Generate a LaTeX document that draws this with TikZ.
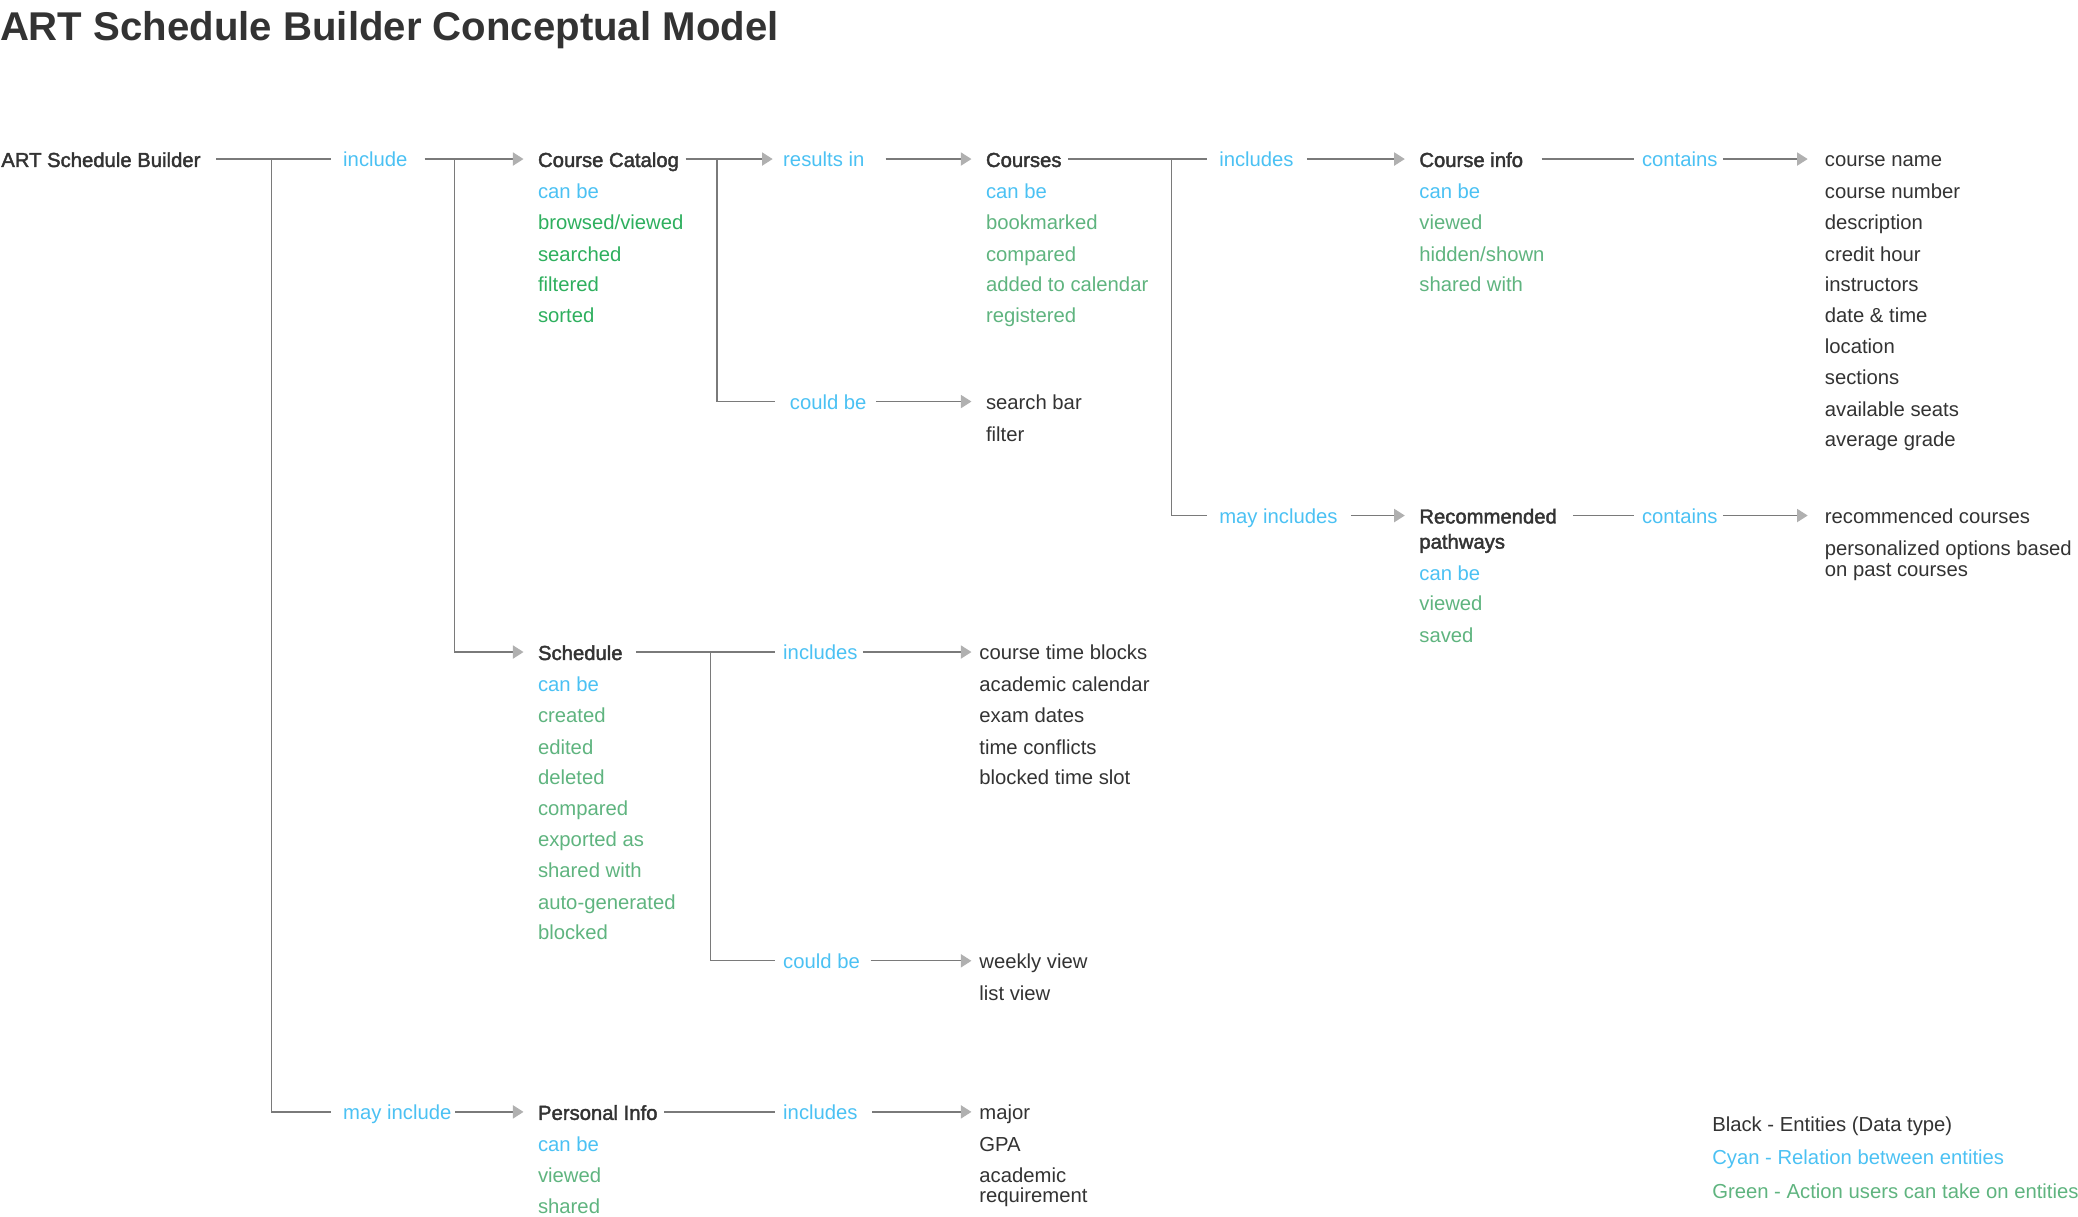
\documentclass[tikz,border=0pt]{standalone}
\usepackage{fontspec}
\setmainfont{Liberation Sans}
\newfontfamily\medfont{Liberation Sans}[FakeBold=2]
\usetikzlibrary{arrows.meta}
\definecolor{ink}{HTML}{333333}
\definecolor{rel}{HTML}{4BC1F3}
\definecolor{actA}{HTML}{2EAF5E}
\definecolor{actB}{HTML}{5FB47F}
\definecolor{wire}{HTML}{7A7A7A}
\definecolor{tipc}{HTML}{B0B0B0}
\newcommand\twoln[2]{\vtop{\hbox{#1}\hbox{#2}}}
\begin{document}
\begin{tikzpicture}[x=1pt,y=-1pt,
  txt/.style={anchor=base west, inner sep=0pt, outer sep=0pt, yshift=-1pt, font=\fontsize{15.3}{18.4}\selectfont, text=ink},
  ent/.style={txt, font=\medfont\fontsize{15.3}{19}\selectfont},
  relt/.style={txt, text=rel},
  actg/.style={txt, text=actA},
  actm/.style={txt, text=actB},
  wireln/.style={draw=wire, line width=0.9pt},
  arr/.style={wireln, -{Triangle[length=8pt,width=10pt,color=tipc]}},
]
\useasboundingbox (0,0) rectangle (1568,918.3);

\node[txt, font=\bfseries\fontsize{30.3}{36}\selectfont] (title) at (0,29.5) {ART Schedule Builder Conceptual Model};

% Row 1
\node[ent] (asb) at (1,125) {ART Schedule Builder};
\node[relt] (inc1) at (259,125) {include};
\node[ent] (cc) at (406,125) {Course Catalog};
\node[relt] (cc1) at (406,149) {can be};
\node[actg] (cc2) at (406,172) {browsed/viewed};
\node[actg] (cc3) at (406,196) {searched};
\node[actg] (cc4) at (406,219) {filtered};
\node[actg] (cc5) at (406,242) {sorted};
\node[relt] (res) at (591,125) {results in};
\node[ent] (crs) at (744,125) {Courses};
\node[relt] (crs1) at (744,149) {can be};
\node[actm] (crs2) at (744,172) {bookmarked};
\node[actm] (crs3) at (744,196) {compared};
\node[actm] (crs4) at (744,219) {added to calendar};
\node[actm] (crs5) at (744,242) {registered};
\node[relt] (cb1) at (596,308) {could be};
\node[txt] (sb) at (744,308) {search bar};
\node[txt] (flt) at (744,332) {filter};
\node[relt] (incs1) at (920,125) {includes};
\node[ent] (ci) at (1071,125) {Course info};
\node[relt] (ci1) at (1071,149) {can be};
\node[actm] (ci2) at (1071,172) {viewed};
\node[actm] (ci3) at (1071,196) {hidden/shown};
\node[actm] (ci4) at (1071,219) {shared with};
\node[relt] (cont1) at (1239,125) {contains};
\node[txt] (cn) at (1377,125) {course name};
\node[txt] (cnum) at (1377,149) {course number};
\node[txt] (desc) at (1377,172) {description};
\node[txt] (ch) at (1377,196) {credit hour};
\node[txt] (ins) at (1377,219) {instructors};
\node[txt] (dt) at (1377,242) {date \& time};
\node[txt] (loc) at (1377,266) {location};
\node[txt] (sec) at (1377,289) {sections};
\node[txt] (avs) at (1377,313) {available seats};
\node[txt] (avg) at (1377,336) {average grade};

% Recommended pathways
\node[relt] (minc) at (920,394) {may includes};
\node[ent] (rp) at (1071,394) {\twoln{Recommended}{pathways}};
\node[relt] (rp1) at (1071,437) {can be};
\node[actm] (rp2) at (1071,460) {viewed};
\node[actm] (rp3) at (1071,484) {saved};
\node[relt] (cont2) at (1239,394) {contains};
\node[txt] (rc) at (1377,394) {recommenced courses};
\node[txt, font=\fontsize{15.3}{16}\selectfont] (po) at (1377,418) {\twoln{personalized options based}{on past courses}};

% Schedule
\node[ent] (sch) at (406,497) {Schedule};
\node[relt] (sch1) at (406,521) {can be};
\node[actm] (sch2) at (406,544) {created};
\node[actm] (sch3) at (406,568) {edited};
\node[actm] (sch4) at (406,591) {deleted};
\node[actm] (sch5) at (406,614) {compared};
\node[actm] (sch6) at (406,638) {exported as};
\node[actm] (sch7) at (406,661) {shared with};
\node[actm] (sch8) at (406,685) {auto-generated};
\node[actm] (sch9) at (406,708) {blocked};
\node[relt] (sinc) at (591,497) {includes};
\node[txt] (ctb) at (739,497) {course time blocks};
\node[txt] (acal) at (739,521) {academic calendar};
\node[txt] (exd) at (739,544) {exam dates};
\node[txt] (tcf) at (739,568) {time conflicts};
\node[txt] (bts) at (739,591) {blocked time slot};
\node[relt] (scb) at (591,730) {could be};
\node[txt] (wv) at (739,730) {weekly view};
\node[txt] (lv) at (739,754) {list view};

% Personal info
\node[relt] (mayinc) at (259,844) {may include};
\node[ent] (pi) at (406,844) {Personal Info};
\node[relt] (pi1) at (406,868) {can be};
\node[actm] (pi2) at (406,891) {viewed};
\node[actm] (pi3) at (406,915) {shared};
\node[relt] (pinc) at (591,844) {includes};
\node[txt] (maj) at (739,844) {major};
\node[txt] (gpa) at (739,868) {GPA};
\node[txt, font=\fontsize{15.3}{15}\selectfont] (areq) at (739,891) {\twoln{academic}{requirement}};

% Legend
\node[txt] (lg1) at (1292,853) {Black - Entities (Data type)};
\node[relt] (lg2) at (1292,878) {Cyan - Relation between entities};
\node[actm] (lg3) at (1292,903) {Green - Action users can take on entities};

% Junction points
\coordinate (j1) at (205,120);
\coordinate (j2) at (343,120);
\coordinate (j3) at (541,120);
\coordinate (j4) at (884,120);
\coordinate (j5) at (536,492);

% Connectors row 1
\draw[wireln] ([shift={(12,-6)}]asb.base east) -- ([shift={(-9,-6)}]inc1.base west);
\draw[arr] ([shift={(13,-6)}]inc1.base east) -- ([shift={(-11,-6)}]cc.base west);
\draw[arr] ([shift={(5,-6)}]cc.base east) -- ([shift={(-8,-6)}]res.base west);
\draw[arr] ([shift={(16,-6)}]res.base east) -- ([shift={(-11,-6)}]crs.base west);
\draw[wireln] ([shift={(5,-6)}]crs.base east) -- ([shift={(-9,-6)}]incs1.base west);
\draw[arr] ([shift={(10,-6)}]incs1.base east) -- ([shift={(-11,-6)}]ci.base west);
\draw[wireln] ([shift={(14,-6)}]ci.base east) -- ([shift={(-6,-6)}]cont1.base west);
\draw[arr] ([shift={(4,-6)}]cont1.base east) -- ([shift={(-13,-6)}]cn.base west);

% Branches
\draw[wireln] (j1) |- ([shift={(-9,-6)}]mayinc.base west);
\draw[arr] ([shift={(3,-6)}]mayinc.base east) -- ([shift={(-11,-6)}]pi.base west);
\draw[arr] (j2) |- ([shift={(-11,-6)}]sch.base west);
\draw[wireln] (j3) |- ([shift={(-11,-6)}]cb1.base west);
\draw[arr] ([shift={(7,-6)}]cb1.base east) -- ([shift={(-11,-6)}]sb.base west);
\draw[wireln] (j4) |- ([shift={(-9,-6)}]minc.base west);
\draw[arr] ([shift={(10,-6)}]minc.base east) -- ([shift={(-11,-6)}]rp.base west);
\draw[wireln] ([shift={(12,-6)}]rp.base east) -- ([shift={(-6,-6)}]cont2.base west);
\draw[arr] ([shift={(4,-6)}]cont2.base east) -- ([shift={(-13,-6)}]rc.base west);

% Schedule connectors
\draw[wireln] ([shift={(10,-6)}]sch.base east) -- ([shift={(-6,-6)}]sinc.base west);
\draw[arr] ([shift={(4,-6)}]sinc.base east) -- ([shift={(-6,-6)}]ctb.base west);
\draw[wireln] (j5) |- ([shift={(-6,-6)}]scb.base west);
\draw[arr] ([shift={(8,-6)}]scb.base east) -- ([shift={(-6,-6)}]wv.base west);

% Personal info connectors
\draw[wireln] ([shift={(5,-6)}]pi.base east) -- ([shift={(-6,-6)}]pinc.base west);
\draw[arr] ([shift={(11,-6)}]pinc.base east) -- ([shift={(-6,-6)}]maj.base west);
\end{tikzpicture}
\end{document}
